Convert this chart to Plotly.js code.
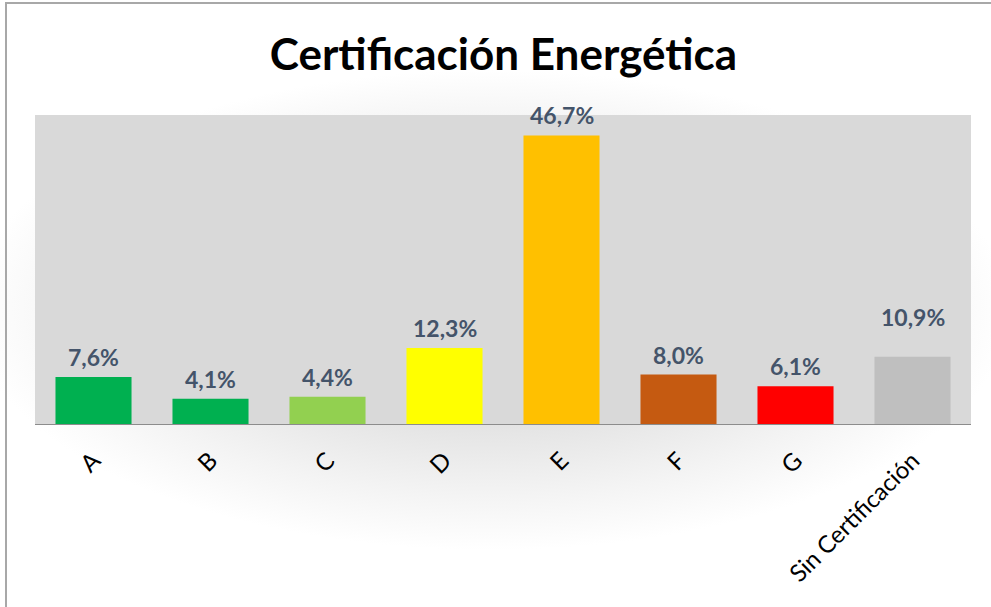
<!DOCTYPE html>
<html>
<head>
<meta charset="utf-8">
<script src="https://cdn.plot.ly/plotly-3.0.1.min.js"></script>
<style>
  html, body { margin: 0; padding: 0; overflow: hidden; background: #ffffff; }
  #wrap { position: relative; width: 991px; height: 607px; overflow: hidden;
    background: radial-gradient(ellipse 520px 240px at 490px 310px, #d4d4d4 0%, #e2e2e2 45%, #f4f4f4 78%, #ffffff 100%); }
  #chart { position: absolute; left: 0; top: 0; width: 991px; height: 607px; }
  #frame { position: absolute; left: 5px; top: 2px; width: 1000px; height: 620px;
    border-left: 2px solid #a8a8a8; border-top: 2px solid #a8a8a8; pointer-events: none; }
</style>
</head>
<body>
<div id="wrap">
  <div id="chart"></div>
  <div id="frame"></div>
</div>
<script>
const categories = ["A", "B", "C", "D", "E", "F", "G", "Sin Certificación"];
const values = [7.6, 4.1, 4.4, 12.3, 46.7, 8.0, 6.1, 10.9];
const barColors = ["#00b050", "#00b050", "#92d050", "#ffff00", "#ffc000", "#c55a11", "#ff0000", "#bfbfbf"];
const chartTitle = "Certificación Energética";

const fmt = v => v.toFixed(1).replace('.', ',') + '%';

const trace = {
  type: 'bar',
  x: categories,
  y: values,
  marker: { color: barColors, line: { width: 0 } },
  width: 0.65,
  hoverinfo: 'x+y'
};

const annotations = categories.map((c, i) => ({
  x: c,
  y: values[i],
  xref: 'x',
  yref: 'y',
  text: '<b>' + fmt(values[i]) + '</b>',
  showarrow: false,
  yanchor: 'bottom',
  yshift: i === categories.length - 1 ? 24 : 4,
  font: { family: 'Lato, "Open Sans", sans-serif', size: 23, color: '#44546a' }
}));

const layout = {
  width: 991,
  height: 607,
  margin: { l: 35, r: 20, t: 115, b: 183 },
  paper_bgcolor: 'rgba(0,0,0,0)',
  plot_bgcolor: '#d9d9d9',
  title: {
    text: '<b>' + chartTitle + '</b>',
    font: { family: 'Lato, "Open Sans", sans-serif', size: 44, color: '#000000', weight: 900 },
    x: 0.508,
    xanchor: 'center',
    y: 1 - 55 / 607,
    yref: 'container',
    yanchor: 'middle'
  },
  xaxis: {
    type: 'category',
    showgrid: false,
    zeroline: false,
    showline: true,
    linecolor: '#8c8c8c',
    linewidth: 1,
    ticks: '',
    tickangle: -45,
    ticklabelstandoff: 12,
    tickfont: { family: 'Lato, "Open Sans", sans-serif', size: 24, color: '#000000' }
  },
  yaxis: {
    range: [0, 50],
    showgrid: false,
    zeroline: false,
    showline: false,
    showticklabels: false,
    ticks: ''
  },
  annotations: annotations,
  showlegend: false
};

Plotly.newPlot('chart', [trace], layout, { displayModeBar: false, staticPlot: true });
</script>
</body>
</html>
